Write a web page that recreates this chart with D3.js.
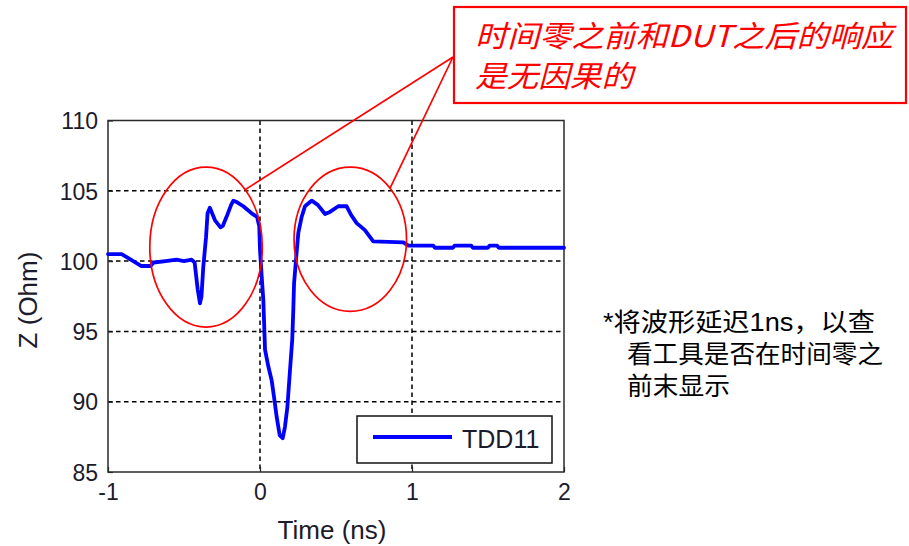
<!DOCTYPE html>
<html><head><meta charset="utf-8">
<script src="https://cdn.jsdelivr.net/npm/d3@7"></script>
<style>
html,body{margin:0;padding:0;background:#fff;}
svg{display:block;}
</style></head>
<body>
<svg id="chart" width="909" height="546"></svg>
<script>
// ---- data ----
const timeNs = [-1.00,-0.91,-0.85,-0.78,-0.72,-0.70,-0.62,-0.55,-0.50,-0.45,-0.43,-0.41,-0.395,-0.385,-0.373,-0.355,-0.345,-0.33,-0.296,-0.26,-0.245,-0.22,-0.19,-0.175,-0.153,-0.11,-0.055,-0.02,-0.005,0.0,0.01,0.022,0.033,0.055,0.077,0.092,0.11,0.13,0.149,0.164,0.18,0.197,0.212,0.219,0.224,0.24,0.252,0.274,0.296,0.329,0.34,0.38,0.428,0.46,0.515,0.57,0.60,0.636,0.69,0.745,0.943,0.976,1.14,1.15,1.27,1.28,1.39,1.40,1.50,1.51,1.56,1.57,2.0];
const zOhm = [100.5,100.5,100.1,99.65,99.65,99.9,100.0,100.1,100.0,100.1,99.9,98.0,97.0,97.5,99.6,101.7,103.4,103.8,102.9,102.4,102.5,103.15,104.0,104.3,104.2,103.9,103.4,103.15,102.5,100.8,99.1,97.2,93.7,92.5,91.5,90.35,88.9,87.6,87.4,88.2,89.6,92.2,94.4,96.5,98.4,100.5,102.0,103.15,103.9,104.2,104.3,104.0,103.35,103.5,103.9,103.9,103.27,102.7,102.2,101.4,101.33,101.1,101.1,100.95,100.95,101.1,101.1,100.95,100.95,101.1,101.1,100.95,100.95];
const xTicks = [-1,0,1,2];
const yTicks = [85,90,95,100,105,110];
const seriesName = "TDD11";
const xLabel = "Time (ns)";
const yLabel = "Z (Ohm)";
const calloutLines = ["时间零之前和DUT之后的响应","是无因果的"];
const noteLines = ["*将波形延迟1ns，以查","看工具是否在时间零之","前末显示"];
// annotation ellipses in data units: [centerT, centerZ], [radiusT, radiusZ]
const ellipseCenters = [[-0.355,101.0],[0.594,101.56]];
const ellipseRadii = [[0.37,5.69],[0.37,5.13]];
// callout line targets (data units)
const calloutTargets = [[-0.094,105.1],[0.855,105.17]];

// ---- chart ----
const svg = d3.select("#chart");
const L=108, R=564, T=120.5, B=472;
const x = d3.scaleLinear().domain([-1,2]).range([L,R]);
const y = d3.scaleLinear().domain([85,110]).range([B,T]);
const font = "'Liberation Sans', Arial, sans-serif";
const cjk = "'Noto Sans CJK SC', 'Noto Sans', sans-serif";
const noteFont = "'Liberation Sans', 'Noto Sans CJK SC', sans-serif";
const txtCol = "#1b1b2b";

// grid
const grid = svg.append("g").attr("stroke","#000").attr("stroke-width",1.5).attr("stroke-dasharray","4.5,3.5");
grid.selectAll("line.v").data(xTicks.slice(1,-1)).join("line")
  .attr("x1",d=>x(d)).attr("x2",d=>x(d)).attr("y1",T).attr("y2",B);
grid.selectAll("line.h").data(yTicks.slice(1,-1)).join("line")
  .attr("x1",L).attr("x2",R).attr("y1",d=>y(d)).attr("y2",d=>y(d));

// axes via d3 axis (labels), ticks inward
const fmt = d => String(d);
const xAxis = svg.append("g").attr("transform",`translate(0,${B})`)
  .call(d3.axisBottom(x).tickValues(xTicks).tickFormat(fmt).tickSizeInner(-5).tickSizeOuter(0).tickPadding(12));
const yAxis = svg.append("g").attr("transform",`translate(${L},0)`)
  .call(d3.axisLeft(y).tickValues(yTicks).tickFormat(fmt).tickSizeInner(-5).tickSizeOuter(0).tickPadding(10));
[xAxis,yAxis].forEach(a=>{
  a.select(".domain").remove();
  a.selectAll("line").attr("stroke","#222").attr("stroke-width",1.2);
  a.selectAll("text").attr("fill",txtCol).style("font-family",font).style("font-size","23px");
});
xAxis.selectAll("text").attr("dy","0.71em");
yAxis.selectAll("text").attr("dy","0.36em");

// frame
svg.append("rect").attr("x",L).attr("y",T).attr("width",R-L).attr("height",B-T)
  .attr("fill","none").attr("stroke","#2a2a2a").attr("stroke-width",1.5);

// axis labels
svg.append("text").attr("x",332).attr("y",539).attr("text-anchor","middle")
  .attr("fill",txtCol).style("font-family",font).style("font-size","26px").text(xLabel);
svg.append("text").attr("transform",`translate(37,300) rotate(-90)`).attr("text-anchor","middle")
  .attr("fill",txtCol).style("font-family",font).style("font-size","26px").text(yLabel);

// series
const pts = timeNs.map((t,i)=>[t,zOhm[i]]);
svg.append("path").datum(pts)
  .attr("d",d3.line().x(d=>x(d[0])).y(d=>y(d[1])))
  .attr("fill","none").attr("stroke","#0000ff").attr("stroke-width",3.8)
  .attr("stroke-linejoin","round").attr("stroke-linecap","round");

// legend
const lg = svg.append("g");
lg.append("rect").attr("x",357).attr("y",416).attr("width",195).attr("height",47)
  .attr("fill","#fff").attr("stroke","#111").attr("stroke-width",1.5);
lg.append("line").attr("x1",373).attr("x2",452).attr("y1",437).attr("y2",437)
  .attr("stroke","#0000ff").attr("stroke-width",3.8);
lg.append("text").attr("x",462).attr("y",448).attr("fill",txtCol)
  .style("font-family",font).style("font-size","25px").text(seriesName);

// annotations: ellipses
svg.append("g").selectAll("ellipse").data(ellipseCenters).join("ellipse")
  .attr("cx",d=>x(d[0])).attr("cy",d=>y(d[1]))
  .attr("rx",(d,i)=>x(ellipseRadii[i][0])-x(0))
  .attr("ry",(d,i)=>y(0)-y(ellipseRadii[i][1]))
  .attr("fill","none").attr("stroke","#ff0000").attr("stroke-width",1.7);

// callout lines
const hub = [453,57];
svg.append("g").selectAll("line").data(calloutTargets).join("line")
  .attr("x1",hub[0]).attr("y1",hub[1]).attr("x2",d=>x(d[0])).attr("y2",d=>y(d[1]))
  .attr("stroke","#ff0000").attr("stroke-width",1.7);

// callout box
svg.append("rect").attr("x",454).attr("y",7).attr("width",452).attr("height",96)
  .attr("fill","#fff").attr("stroke","#ff0000").attr("stroke-width",2.2);
const cb = [{y:47,w:418},{y:87,w:158}];
svg.append("g").selectAll("text").data(calloutLines).join("text")
  .attr("x",475).attr("y",(d,i)=>cb[i].y)
  .attr("textLength",(d,i)=>cb[i].w).attr("lengthAdjust","spacingAndGlyphs")
  .attr("fill","#ff0000").style("font-family",cjk).style("font-style","italic")
  .style("font-size","30px").text(d=>d);

// side note
const nb = [{x:603,y:331,w:272},{x:627,y:363,w:256},{x:627,y:395,w:103}];
svg.append("g").selectAll("text").data(noteLines).join("text")
  .attr("x",(d,i)=>nb[i].x).attr("y",(d,i)=>nb[i].y)
  .attr("textLength",(d,i)=>nb[i].w).attr("lengthAdjust","spacingAndGlyphs")
  .attr("fill","#000").style("font-family",noteFont).style("font-size","25px").text(d=>d);
</script>
</body></html>
